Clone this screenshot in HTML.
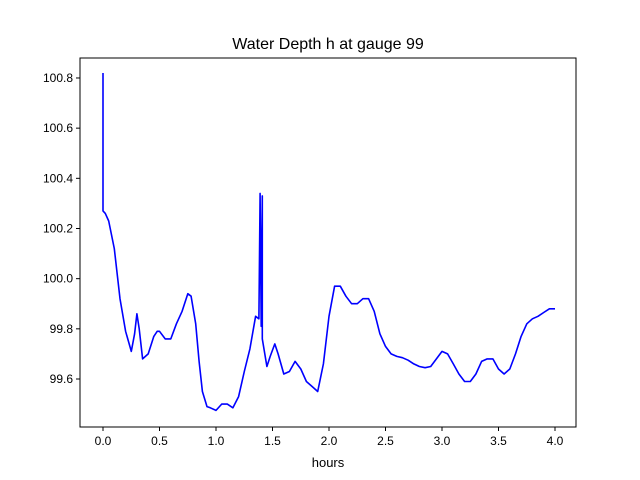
<!DOCTYPE html>
<html><head><meta charset="utf-8"><style>
body{margin:0;background:#fff;}
svg{display:block;font-family:"Liberation Sans",sans-serif;}
</style></head><body>
<svg id="chart" width="640" height="480">
<rect width="640" height="480" fill="#fff"/>
<text x="328" y="49" text-anchor="middle" font-size="16">Water Depth h at gauge 99</text>
<g id="plot"></g>
<rect x="80" y="58" width="496" height="369" fill="none" stroke="#000" stroke-width="1"/>
<text x="328" y="467" text-anchor="middle" font-size="13">hours</text>
</svg>
<script>
const times=[0,0,0.02,0.05,0.1,0.15,0.2,0.25,0.28,0.3,0.32,0.35,0.4,0.45,0.48,0.5,0.55,0.6,0.65,0.7,0.75,0.78,0.82,0.85,0.88,0.92,0.95,1.0,1.05,1.1,1.15,1.2,1.25,1.3,1.35,1.38,1.39,1.40,1.41,1.41,1.45,1.48,1.52,1.55,1.6,1.65,1.7,1.75,1.8,1.85,1.9,1.95,2.0,2.05,2.1,2.15,2.2,2.25,2.3,2.35,2.4,2.45,2.5,2.55,2.6,2.65,2.7,2.75,2.8,2.85,2.9,2.95,3.0,3.05,3.1,3.15,3.2,3.25,3.3,3.35,3.4,3.45,3.5,3.55,3.6,3.65,3.7,3.75,3.8,3.85,3.9,3.95,4.0];
const depths=[100.82,100.27,100.26,100.23,100.12,99.92,99.79,99.71,99.78,99.86,99.8,99.68,99.70,99.77,99.79,99.79,99.76,99.76,99.82,99.87,99.94,99.93,99.82,99.67,99.55,99.49,99.485,99.475,99.5,99.5,99.485,99.53,99.63,99.72,99.85,99.84,100.34,99.81,100.33,99.76,99.65,99.69,99.74,99.70,99.62,99.63,99.67,99.64,99.59,99.57,99.55,99.66,99.85,99.97,99.97,99.93,99.9,99.9,99.92,99.92,99.87,99.78,99.73,99.7,99.69,99.685,99.675,99.66,99.65,99.645,99.65,99.68,99.71,99.7,99.66,99.62,99.59,99.59,99.62,99.67,99.68,99.68,99.64,99.62,99.64,99.7,99.77,99.82,99.84,99.85,99.865,99.88,99.88];
const xTicks=[0.0,0.5,1.0,1.5,2.0,2.5,3.0,3.5,4.0];
const yTicks=[99.6,99.8,100.0,100.2,100.4,100.6,100.8];
const NS="http://www.w3.org/2000/svg";
function xs(v){return 103+v*113;}
function ys(v){return 379-(v-99.6)/0.2*50.17;}
const g=document.getElementById('plot');
function mk(t,a){const e=document.createElementNS(NS,t);for(const k in a)e.setAttribute(k,a[k]);return e;}
xTicks.forEach(v=>{
 const l=mk('line',{x1:xs(v),x2:xs(v),y1:427,y2:431,stroke:'#000'});
 
 
 g.appendChild(l);
 const t=mk('text',{x:xs(v),y:445,'text-anchor':'middle','font-size':'12'});
 
 
 t.textContent=v.toFixed(1);g.appendChild(t);
});
yTicks.forEach(v=>{
 const l=mk('line',{x1:76,x2:80,y1:ys(v),y2:ys(v),stroke:'#000'});
 
 
 g.appendChild(l);
 const t=mk('text',{x:73,y:ys(v)+4,'text-anchor':'end','font-size':'12'});
 
 
 t.textContent=v.toFixed(1);g.appendChild(t);
});
const pts=times.map((t,i)=>xs(t).toFixed(1)+','+ys(depths[i]).toFixed(1)).join(' ');
const pl=mk('polyline',{points:pts,fill:'none',stroke:'#0000ff','stroke-width':'1.6','stroke-linejoin':'round'});


g.appendChild(pl);
</script>
</body></html>
